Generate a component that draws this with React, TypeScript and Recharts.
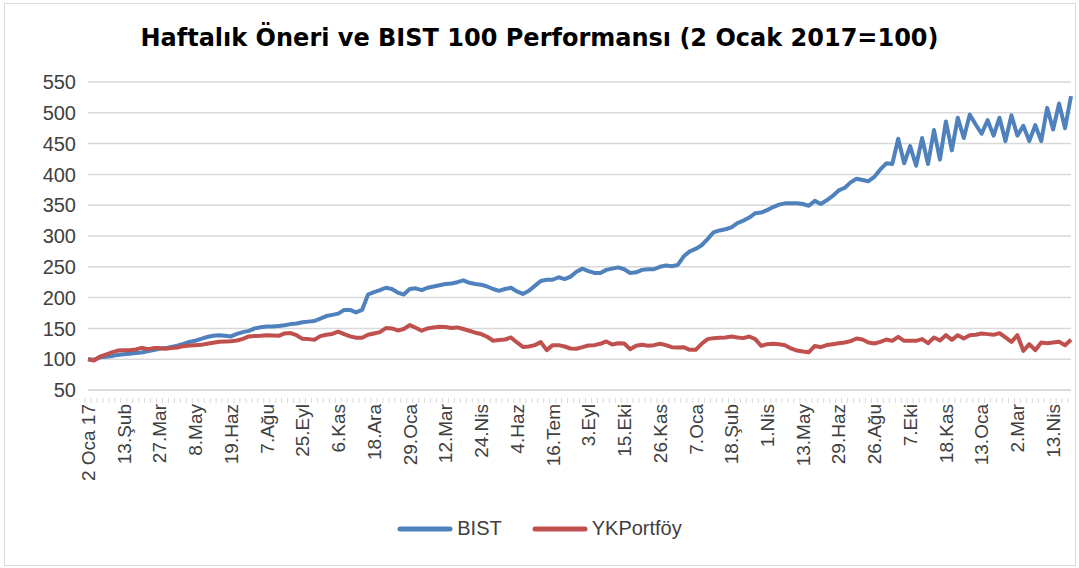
import React from "react";
import {
  LineChart,
  Line,
  XAxis,
  YAxis,
  CartesianGrid,
  Legend,
} from "recharts";

// Tick labels shown every 6th week on the category axis
const tickLabels = [
  "2 Oca 17", "13.Şub", "27.Mar", "8.May", "19.Haz", "7.Ağu", "25.Eyl",
  "6.Kas", "18.Ara", "29.Oca", "12.Mar", "24.Nis", "4.Haz", "16.Tem",
  "3.Eyl", "15.Eki", "26.Kas", "7.Oca", "18.Şub", "1.Nis", "13.May",
  "29.Haz", "26.Ağu", "7.Eki", "18.Kas", "13.Oca", "2.Mar", "13.Nis",
];

const bist = [
  100, 99, 103, 104, 105, 107, 108, 109, 110, 111,
  113, 115, 117, 118, 120, 122, 125, 128, 130, 133,
  136, 138, 139, 138, 137, 141, 144, 146, 150, 152,
  153, 153, 154, 155, 157, 158, 160, 161, 162, 166,
  170, 172, 174, 180, 180, 176, 180, 205, 209, 212,
  216, 214, 208, 205, 214, 215, 212, 216, 218, 220,
  222, 223, 225, 228, 224, 222, 221, 218, 214, 211,
  214, 216, 210, 206, 211, 219, 227, 229, 229, 233,
  230, 234, 242, 247, 243, 240, 240, 245, 247, 249,
  246, 240, 241, 245, 246, 246, 250, 252, 251, 253,
  267, 275, 279, 285, 295, 306, 309, 311, 314, 321,
  325, 330, 337, 338, 342, 347, 351, 353, 353, 353,
  352, 349, 357, 352, 358, 365, 374, 378, 387, 393,
  391, 389, 396, 408, 418, 417, 458, 418, 446, 414,
  459, 417, 472, 424, 486, 439, 492, 459, 497, 481,
  466, 488, 463, 492, 454, 496, 463, 479, 454, 480,
  454, 508, 473, 515, 475, 527,
];

const ykPortfoy = [
  100, 98, 104, 107.6, 111, 114, 114.7, 114.7, 115.8, 118.5,
  116.3, 118, 118, 116.8, 118, 119, 121.2, 122.3, 122.8, 123.3,
  125, 126.6, 128.3, 128.8, 129.3, 130.4, 133, 137, 137.5, 138,
  139, 138.6, 138, 141.8, 142.4, 139, 133, 132.6, 131.5, 137.5,
  139.6, 141, 144.6, 140.8, 137, 134.8, 134.8, 139.7, 141.8, 144,
  150.5, 150, 146.7, 149, 155.4, 151, 146.2, 150, 151.6, 152.7,
  152.2, 150.5, 151.6, 149, 146.2, 143, 140.8, 136.4, 130, 131,
  132, 135.3, 127.2, 120, 120.6, 122.8, 127.7, 114.7, 122.8, 122.8,
  120.6, 117.4, 117, 119.5, 122.3, 122.8, 125, 128.8, 123.9, 126,
  125.5, 116.3, 121.7, 123.3, 121.7, 122.8, 125, 122.8, 119.5, 119,
  119.5, 115.2, 115.2, 125, 132.6, 134.2, 134.7, 135.3, 136.9, 135.3,
  134.2, 136.9, 132.6, 121.7, 124.4, 125, 124.4, 122.8, 117.4, 114,
  112.5, 111.4, 121.7, 119.5, 123, 124.4, 126, 127.1, 129.3, 133.6,
  132, 127.1, 125.5, 128.2, 132, 129.8, 136.3, 129.8, 129.8, 129.8,
  132.6, 126, 135.3, 130.4, 139, 131.5, 139, 133.6, 139, 139.6,
  141.8, 140.7, 139.6, 142.3, 135.3, 128.2, 139, 113.6, 124.4, 114.6,
  127.1, 126, 127.1, 128.2, 122.8, 131.5,
];

const yTicks = [50, 100, 150, 200, 250, 300, 350, 400, 450, 500, 550];

const data = bist.map((b, i) => ({ i, BIST: b, YKPortföy: ykPortfoy[i] }));
const allTicks = data.map((d) => d.i);

const PLOT_W = 983;
const HALF_STEP = PLOT_W / bist.length / 2;
const FONT = "'Liberation Sans', Arial, sans-serif";

function XTick(props: any) {
  const { x, y, payload } = props;
  const idx = payload.value as number;
  const label = idx % 6 === 0 ? tickLabels[idx / 6] : "";
  return (
    <g transform={`translate(${x},${y})`}>
      <line x1={-HALF_STEP} x2={-HALF_STEP} y1={0} y2={5} stroke="#d9d9d9" strokeWidth={1} />
      {label && (
        <text
          x={-6}
          y={0}
          dy="0.36em"
          transform="rotate(-90)"
          textAnchor="end"
          fill="#404040"
          fontSize={19}
          fontFamily={FONT}
        >
          {label}
        </text>
      )}
    </g>
  );
}

function LegendContent(props: any) {
  const { payload } = props;
  return (
    <div style={{ display: "flex", justifyContent: "center", gap: 30, fontFamily: FONT, fontSize: 20, color: "#404040" }}>
      {(payload || []).map((p: any) => (
        <div key={p.value} style={{ display: "flex", alignItems: "center", gap: 4 }}>
          <svg width={56} height={10}>
            <line x1={3} x2={53} y1={5} y2={5} stroke={p.color} strokeWidth={5} strokeLinecap="round" />
          </svg>
          <span>{p.value}</span>
        </div>
      ))}
    </div>
  );
}

export default function App() {
  return (
    <div style={{ position: "absolute", left: 0, top: 0, width: 1079, height: 568, background: "#fff" }}>
      <div
        style={{
          position: "absolute",
          left: 4,
          top: 3,
          width: 1070,
          height: 561,
          border: "1px solid #d9d9d9",
        }}
      />
      <div
        style={{
          position: "absolute",
          left: 0,
          top: 24,
          width: 1079,
          textAlign: "center",
          fontFamily: "'DejaVu Sans', Verdana, sans-serif",
          fontWeight: "bold",
          fontSize: 24,
          color: "#000",
        }}
      >
        Haftalık Öneri ve BIST 100 Performansı (2 Ocak 2017=100)
      </div>
      <LineChart
        width={1079}
        height={568}
        data={data}
        margin={{ top: 82, right: 8, left: 0, bottom: 58 }}
        style={{ position: "absolute", left: 0, top: 0 }}
      >
        <CartesianGrid vertical={false} stroke="#d9d9d9" strokeWidth={1.5} />
        <XAxis
          dataKey="i"
          type="category"
          ticks={allTicks}
          interval={0}
          height={120}
          tick={<XTick />}
          tickLine={false}
          axisLine={{ stroke: "#d9d9d9", strokeWidth: 1.5 }}
        />
        <YAxis
          domain={[50, 550]}
          ticks={yTicks}
          width={88}
          axisLine={false}
          tickLine={false}
          tickSize={0}
          tickMargin={12}
          tick={{ fill: "#404040", fontSize: 20, fontFamily: FONT }}
        />
        <Legend
          verticalAlign="middle"
          align="center"
          layout="horizontal"
          wrapperStyle={{ top: 517, left: 0, width: 1079 }}
          content={<LegendContent />}
        />
        <Line
          type="linear"
          dataKey="BIST"
          stroke="#4F81BD"
          strokeWidth={4}
          dot={false}
          strokeLinejoin="round"
          isAnimationActive={false}
        />
        <Line
          type="linear"
          dataKey="YKPortföy"
          stroke="#C0504D"
          strokeWidth={4}
          dot={false}
          strokeLinejoin="round"
          isAnimationActive={false}
        />
      </LineChart>
    </div>
  );
}
